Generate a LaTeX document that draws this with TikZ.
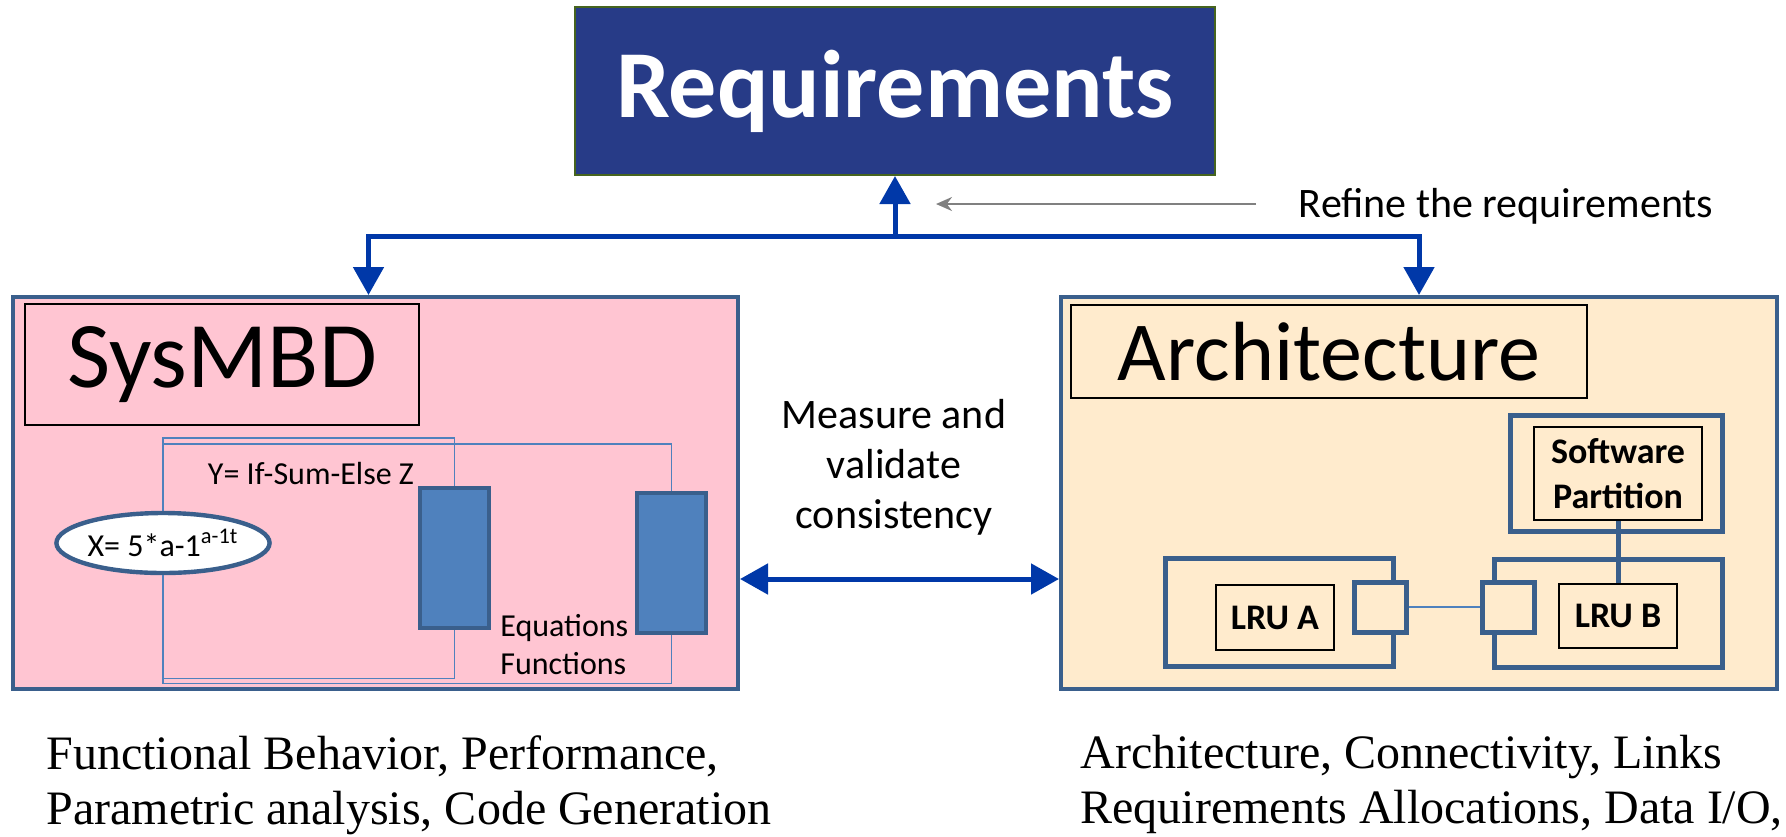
\documentclass[tikz,border=0pt]{standalone}
\usepackage{fontspec}
\setmainfont{Carlito}
\newfontfamily\timesfont{Liberation Serif}
\usetikzlibrary{arrows.meta,shapes.geometric}
\definecolor{reqblue}{RGB}{39,59,135}
\definecolor{reqedge}{RGB}{70,100,30}
\definecolor{flowblue}{RGB}{0,56,168}
\definecolor{steel}{RGB}{58,95,140}
\definecolor{barblue}{RGB}{79,129,189}
\definecolor{sysfill}{RGB}{255,197,210}
\definecolor{archfill}{RGB}{255,235,205}

\begin{document}
\begin{tikzpicture}[x=0.5pt,y=-0.5pt,
  >={Triangle[width=15pt,length=14pt]},
  frame/.style={draw=steel, line width=2pt, inner sep=0},
  unit/.style={draw=steel, line width=2.5pt, inner sep=0, fill=archfill},
  tag/.style={draw=black, line width=1pt, inner sep=0},
  flow/.style={draw=flowblue, line width=2.5pt},
  wire/.style={draw=barblue, line width=0.7pt},
  small/.style={font=\fontsize{16}{19}\selectfont},
  lbl/.style={font=\fontsize{18}{22.5}\selectfont\bfseries},
  note/.style={anchor=north west, align=left, inner sep=0, font=\timesfont\fontsize{24}{27.5}\selectfont}]
\useasboundingbox (0,0) rectangle (1786,836);

\node[fill=reqblue, draw=reqedge, line width=1pt, minimum width=320pt, minimum height=84pt, text=white, font=\fontsize{48}{56}\selectfont\bfseries] (req) at (895,91) {Requirements};

\node[frame, fill=sysfill, minimum width=362.5pt, minimum height=196pt] (sysmbd) at (375.5,493) {};
\node[frame, fill=archfill, minimum width=358pt, minimum height=196pt] (arch) at (1419,493) {};

\node[tag, minimum width=197pt, minimum height=60.5pt, font=\fontsize{47}{56}\selectfont] (sysname) at (222,364.5) {SysMBD};
\node[tag, minimum width=258pt, minimum height=46.5pt, font=\fontsize{42}{50}\selectfont] (archname) at (1329,351.5) {Architecture};

\node[draw=steel, line width=2.2pt, fill=white, ellipse, inner sep=0, minimum width=100pt, minimum height=30pt, small] (eq) at (163,543) {X= 5*a-1\textsuperscript{a-1t}};
\node[frame, fill=barblue, minimum width=34.5pt, minimum height=70pt] (bar1) at (454.5,558) {};
\node[frame, fill=barblue, minimum width=34.5pt, minimum height=70pt] (bar2) at (671.5,562.5) {};
\draw[wire] (eq.north) -- ++(0,-73) -| (bar1.north);
\draw[wire] (eq.north) -- ++(0,-67) -| (bar2.north);
\draw[wire] (eq.south) -- ++(0,103) -| (bar1.south);
\draw[wire] (eq.south) -- ++(0,108) -| (bar2.south);
\node[small] (ylbl) at (311,473) {Y= If-Sum-Else Z};
\node[small, align=left, anchor=west, inner sep=0] (eqlbl) at (500,645) {Equations\\Functions};

\node[unit, minimum width=106pt, minimum height=58pt] (swbox) at (1616.5,473.5) {};
\node[tag, minimum width=84pt, minimum height=46.5pt, align=center, lbl] (swpart) at (1618,473.5) {Software\\Partition};
\node[unit, minimum width=114pt, minimum height=54pt] (lruabox) at (1279.5,612.5) {};
\node[unit, minimum width=114pt, minimum height=54pt] (lrubbox) at (1608.5,613.5) {};
\node[unit, minimum width=26pt, minimum height=25pt] (porta) at (1380,607) {};
\node[unit, minimum width=26pt, minimum height=25pt] (portb) at (1508,607) {};
\node[tag, minimum width=59pt, minimum height=32.5pt, lbl] (lrua) at (1275,617.5) {LRU A};
\node[tag, minimum width=59pt, minimum height=32pt, lbl] (lrub) at (1618,616) {LRU B};
\draw[wire] (porta) -- (portb);
\draw[steel, line width=2.5pt] (swpart.south) -- (lrub.north);

\coordinate (split) at (895,236);
\draw[flow, ->] (split) -- (req);
\draw[flow, ->] (split) -| ([xshift=-3.5pt]sysmbd.north);
\draw[flow, ->] (split) -| (arch.north);
\draw[flow, <->] ([yshift=-43pt]sysmbd.east) -- ([yshift=-43pt]arch.west);

\node[font=\fontsize{21}{25}\selectfont, align=center] (measure) at (894,467) {Measure and\\validate\\consistency};
\node[font=\fontsize{21}{25}\selectfont] (refine) at (1506,206) {Refine the requirements};
\coordinate (refinetail) at (1256,204);
\coordinate (refinetip) at (936,204);
\draw[gray, line width=1pt, -{Stealth[length=8pt,width=7pt]}] (refinetail) -- (refinetip);

\node[note] (leftnote) at (46,735) {Functional Behavior, Performance,\\Parametric analysis, Code Generation};
\node[note] (rightnote) at (1080,735) {Architecture, Connectivity, Links\\Requirements Allocations, Data I/O,};
\end{tikzpicture}
\end{document}
